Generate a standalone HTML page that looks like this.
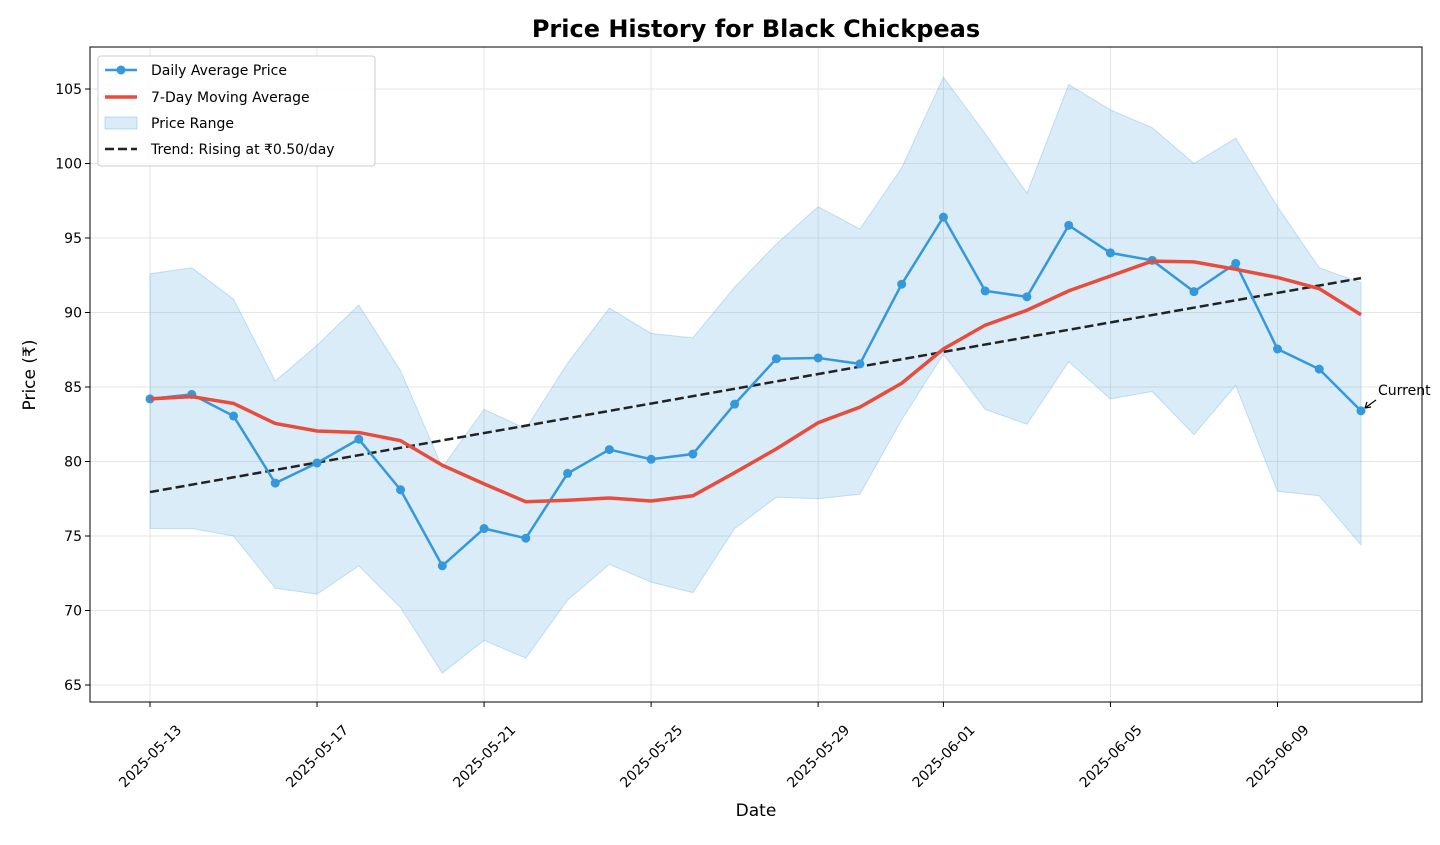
<!DOCTYPE html>
<html><head><meta charset="utf-8"><style>
body{margin:0;background:#fff;font-family:"Liberation Sans","DejaVu Sans",sans-serif;}
svg text{font-family:"DejaVu Sans","Liberation Sans",sans-serif;}
</style></head><body>
<svg id="chart" width="1440" height="840" xmlns="http://www.w3.org/2000/svg"></svg>
<script>
const dates=["2025-05-13","2025-05-14","2025-05-15","2025-05-16","2025-05-17","2025-05-18","2025-05-19","2025-05-20","2025-05-21","2025-05-22","2025-05-23","2025-05-24","2025-05-25","2025-05-26","2025-05-27","2025-05-28","2025-05-29","2025-05-30","2025-05-31","2025-06-01","2025-06-02","2025-06-03","2025-06-04","2025-06-05","2025-06-06","2025-06-07","2025-06-08","2025-06-09","2025-06-10","2025-06-11"];
const dailyAvg=[84.2,84.5,83.05,78.55,79.9,81.5,78.1,73.0,75.5,74.85,79.2,80.8,80.15,80.5,83.85,86.9,86.95,86.55,91.9,96.4,91.45,91.05,95.85,94.0,93.5,91.4,93.3,87.55,86.2,83.4];
const movingAvg=[84.2,84.35,83.9,82.55,82.05,81.95,81.4,79.75,78.5,77.3,77.4,77.55,77.35,77.7,79.25,80.85,82.6,83.65,85.25,87.55,89.15,90.15,91.45,92.45,93.45,93.4,92.9,92.35,91.6,89.85];
const rangeHigh=[92.6,93.0,90.9,85.4,87.8,90.5,86.1,79.6,83.5,82.2,86.6,90.3,88.6,88.3,91.7,94.6,97.1,95.6,99.7,105.8,102.0,98.0,105.3,103.6,102.4,100.0,101.7,97.1,93.0,92.0];
const rangeLow=[75.5,75.5,75.0,71.5,71.1,73.0,70.2,65.8,68.0,66.8,70.7,73.1,71.9,71.2,75.5,77.6,77.5,77.8,82.8,87.2,83.5,82.5,86.7,84.2,84.7,81.8,85.1,78.0,77.7,74.4];
const trendStart=77.95, trendSlope=0.495;
const yTicks=[65,70,75,80,85,90,95,100,105];
const xTickIdx=[0,4,8,12,16,19,23,27];

const NS="http://www.w3.org/2000/svg";
const svg=document.getElementById('chart');
const L=90,R=1422,T=47,B=702;
const X=i=>150+i*(1361-150)/29;
const Y=v=>89+(105-v)*(685-89)/40;
function el(tag,attrs,parent){const e=document.createElementNS(NS,tag);for(const k in attrs)e.setAttribute(k,attrs[k]);(parent||svg).appendChild(e);return e;}
function txt(s,attrs){const t=el('text',attrs);t.textContent=s;return t;}

yTicks.forEach(v=>{const g=el('line',{x1:L,x2:R,y1:Y(v),y2:Y(v),stroke:'#e5e5e5','stroke-width':1});

});
xTickIdx.forEach(i=>{const g=el('line',{x1:X(i),x2:X(i),y1:T,y2:B,stroke:'#e5e5e5','stroke-width':1});

});

let d='M'+rangeHigh.map((v,i)=>X(i)+','+Y(v)).join('L')+'L'+rangeLow.map((v,i)=>[X(i),Y(v)]).reverse().map(p=>p.join(',')).join('L')+'Z';
const band=el('path',{d:d,fill:'#3498db','fill-opacity':0.19,stroke:'#3498db','stroke-opacity':0.25,'stroke-width':1});



const tr=el('line',{x1:X(0),y1:Y(trendStart),x2:X(29),y2:Y(trendStart+29*trendSlope),stroke:'#222','stroke-width':2.5,'stroke-dasharray':'9,4'});



const dl=el('polyline',{points:dailyAvg.map((v,i)=>X(i)+','+Y(v)).join(' '),fill:'none',stroke:'#3498db','stroke-width':2.5});


dailyAvg.forEach((v,i)=>{const c=el('circle',{cx:X(i),cy:Y(v),r:4.5,fill:'#3498db'});

});

const ma=el('polyline',{points:movingAvg.map((v,i)=>X(i)+','+Y(v)).join(' '),fill:'none',stroke:'#e74c3c','stroke-width':3.5});



const fr=el('rect',{x:L,y:T,width:R-L,height:B-T,fill:'none',stroke:'#000','stroke-width':1});



yTicks.forEach(v=>{el('line',{x1:L-5,x2:L,y1:Y(v),y2:Y(v),stroke:'#000'});
const t=txt(String(v),{x:L-8,y:Y(v)+5,'text-anchor':'end','font-size':14});

});
xTickIdx.forEach(i=>{el('line',{x1:X(i),x2:X(i),y1:B,y2:B+5,stroke:'#000'});
const cx=X(i), cy=756;
const t=txt(dates[i],{x:cx,y:cy+5,'text-anchor':'middle','font-size':14,transform:`rotate(-45 ${cx} ${cy})`});

});

const ti=txt('Price History for Black Chickpeas',{x:756,y:37,'text-anchor':'middle','font-size':24,'font-weight':'bold'});


const xt=txt('Date',{x:756,y:816,'text-anchor':'middle','font-size':17});


const yt=txt('Price (₹)',{x:35,y:375,'text-anchor':'middle','font-size':17,transform:'rotate(-90 35 375)'});



const an=txt('Current',{x:1378,y:395,'font-size':14});


el('line',{x1:1376,y1:400,x2:1365,y2:408,stroke:'#000','stroke-width':1.2});
el('path',{d:'M1365,408 l2,-6 M1365,408 l6,-1',stroke:'#000','stroke-width':1.2,fill:'none'});

const lg=el('g',{});


el('rect',{x:98,y:56,width:277,height:110,rx:3,fill:'#fff','fill-opacity':0.85,stroke:'#ccc'},lg);
const items=[['Daily Average Price',70],['7-Day Moving Average',97],['Price Range',123],['Trend: Rising at ₹0.50/day',149]];
el('line',{x1:105,x2:137,y1:70,y2:70,stroke:'#3498db','stroke-width':2.5},lg);
el('circle',{cx:121,cy:70,r:4.5,fill:'#3498db'},lg);
el('line',{x1:105,x2:137,y1:97,y2:97,stroke:'#e74c3c','stroke-width':3.5},lg);
el('rect',{x:105,y:117,width:32,height:12,fill:'#3498db','fill-opacity':0.19,stroke:'#3498db','stroke-opacity':0.3},lg);
el('line',{x1:105,x2:137,y1:149,y2:149,stroke:'#222','stroke-width':2.5,'stroke-dasharray':'9,4'},lg);
items.forEach(([s,y])=>{const t=el('text',{x:151,y:y+5,'font-size':14},lg);t.textContent=s;

});
</script>
</body></html>
